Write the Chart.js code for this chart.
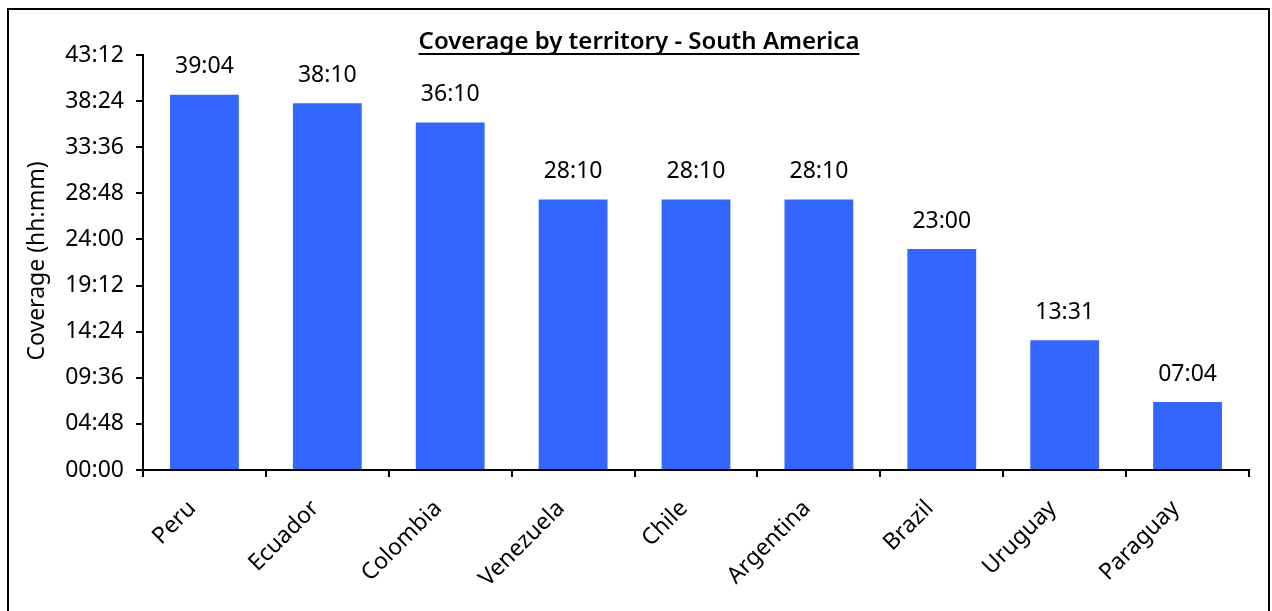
<!DOCTYPE html>
<html>
<head>
<meta charset="utf-8">
<script src="https://cdn.jsdelivr.net/npm/chart.js@4/dist/chart.umd.min.js"></script>
<style>
  html, body { margin: 0; padding: 0; background: #fff; overflow: hidden; }
  #frame { position: absolute; left: 7px; top: 8px; width: 1259px; height: 640px; border: 2px solid #000; }
  #wrap { position: absolute; left: 0; top: 0; width: 1272px; height: 611px; }
</style>
</head>
<body>
<div id="frame"></div>
<div id="wrap"><canvas id="chart" width="1272" height="611"></canvas></div>
<script>
// coverage per territory, in minutes (labels show hh:mm)
const territories = ['Peru', 'Ecuador', 'Colombia', 'Venezuela', 'Chile', 'Argentina', 'Brazil', 'Uruguay', 'Paraguay'];
const coverageMinutes = [2344, 2290, 2170, 1690, 1690, 1690, 1380, 811, 424];
const yTickMinutes = [0, 288, 576, 864, 1152, 1440, 1728, 2016, 2304, 2592];

const FONT = '"Noto Sans", "Open Sans", sans-serif';

function hhmm(m) {
    const h = Math.floor(m / 60);
    const mm = Math.round(m - h * 60);
    return String(h).padStart(2, '0') + ':' + String(mm).padStart(2, '0');
}

const overlay = {
    id: 'overlay',
    afterDatasetsDraw(chart) {
        const ctx = chart.ctx;
        ctx.save();
        ctx.fillStyle = '#000';
        ctx.font = '23px ' + FONT;
        ctx.textAlign = 'center';
        ctx.textBaseline = 'middle';
        chart.getDatasetMeta(0).data.forEach((bar, i) => {
            ctx.fillText(hhmm(coverageMinutes[i]), bar.x, bar.y - 28);
        });
        // title, underlined
        const title = 'Coverage by territory - South America';
        ctx.font = '600 24px ' + FONT;
        ctx.fillText(title, 639, 42);
        const w = ctx.measureText(title).width;
        ctx.fillRect(639 - w / 2, 53, w, 2);
        // y axis title
        ctx.translate(37, 261);
        ctx.rotate(-Math.PI / 2);
        ctx.font = '23px ' + FONT;
        ctx.fillText('Coverage (hh:mm)', 0, 0);
        ctx.restore();
    }
};

new Chart(document.getElementById('chart'), {
    type: 'bar',
    data: {
        labels: territories,
        datasets: [{
            data: coverageMinutes,
            backgroundColor: '#3366FF',
            barPercentage: 0.56,
            categoryPercentage: 1
        }]
    },
    options: {
        responsive: false,
        animation: false,
        layout: { padding: { top: 55, right: 23, left: 0, bottom: 0 } },
        plugins: { legend: { display: false }, tooltip: { enabled: false }, title: { display: false } },
        scales: {
            x: {
                grid: { offset: true, drawOnChartArea: false, drawTicks: true, tickLength: 7, color: '#000', lineWidth: 2 },
                border: { color: '#000', width: 2 },
                ticks: { color: '#000', font: { family: FONT, size: 23 }, minRotation: 45, maxRotation: 45, padding: 18, labelOffset: -12 },
                afterFit(scale) { scale.height = 141; }
            },
            y: {
                min: 0,
                max: 2592,
                afterBuildTicks(scale) { scale.ticks = yTickMinutes.map(v => ({ value: v })); },
                grid: { drawOnChartArea: false, drawTicks: true, tickLength: 7, color: '#000', lineWidth: 2 },
                border: { color: '#000', width: 2 },
                ticks: { color: '#000', font: { family: FONT, size: 23 }, padding: 12, callback: v => hhmm(v) },
                afterFit(scale) { scale.width = 143; }
            }
        }
    },
    plugins: [overlay]
});
</script>
</body>
</html>
